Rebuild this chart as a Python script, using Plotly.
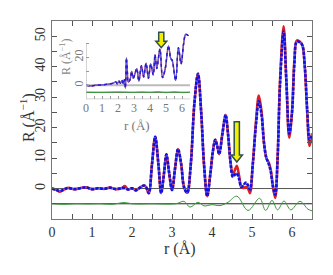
import plotly.graph_objects as go

# ---------------- main panel data ----------------
r_main = [0.0, 0.1, 0.2, 0.3, 0.4, 0.55, 0.7, 0.85, 1.0, 1.15, 1.3, 1.45, 1.6, 1.75, 1.82, 1.9,
          2.0, 2.1, 2.2, 2.3, 2.35, 2.42, 2.5, 2.58, 2.66, 2.73, 2.8, 2.86, 2.93, 3.0, 3.08,
          3.15, 3.23, 3.3, 3.38, 3.47, 3.56, 3.65, 3.73, 3.8, 3.88, 3.96, 4.02, 4.08, 4.13,
          4.18, 4.26, 4.34, 4.4, 4.46, 4.52, 4.57, 4.62, 4.68, 4.73, 4.78, 4.85, 4.9, 4.95,
          5.02, 5.1, 5.17, 5.24, 5.3, 5.36, 5.42, 5.47, 5.52, 5.58, 5.64, 5.7, 5.79, 5.86,
          5.93, 6.0, 6.06, 6.12, 6.2, 6.26, 6.32, 6.38, 6.44, 6.5]
R_data = [0.0, -0.4, -1.0, -0.3, 0.2, -0.2, 0.1, 0.4, -0.2, 0.1, -0.1, 0.3, -0.2, 0.2, 0.8, -0.3,
          0.1, -0.6, 0.3, 1.0, 0.5, -1.5, 8.0, 17.0, 8.0, -1.5, 5.0, 11.2, 5.0, -0.5, 7.0,
          13.0, 8.0, 0.5, -1.4, 8.0, 28.0, 37.7, 25.0, 8.0, -2.5, 5.0, 12.0, 16.0, 14.0,
          11.3, 18.0, 24.2, 18.0, 9.0, 4.5, 6.0, 7.5, 4.0, 0.5, 0.2, 0.5, 0.0, -1.5,
          8.0, 22.0, 30.5, 25.0, 15.0, 10.0, 8.5, 6.0, 1.0, -3.1, 10.0, 35.0, 53.3, 35.0,
          16.7, 25.0, 42.0, 48.6, 48.2, 47.0, 40.0, 25.0, 14.0, 18.0]
R_fit = [0.0, -0.4, -0.8, -0.3, 0.2, -0.2, 0.1, 0.4, -0.2, 0.1, -0.1, 0.3, -0.2, 0.2, 0.1, -0.3,
         0.1, -0.6, 0.3, 1.0, 0.5, -1.5, 8.0, 17.0, 8.0, -1.5, 5.0, 11.2, 5.0, -0.5, 7.0,
         13.0, 8.0, 0.5, -1.4, 8.0, 28.0, 37.7, 25.0, 8.0, -2.5, 5.0, 12.0, 16.0, 14.0,
         11.3, 18.0, 24.2, 18.0, 9.0, 3.8, 4.5, 5.0, 3.0, 0.5, 1.0, 2.0, 1.0, -0.3,
         8.0, 21.0, 28.6, 24.0, 15.0, 10.0, 8.0, 5.5, 1.0, -2.0, 10.0, 34.0, 51.5, 35.0,
         18.0, 25.0, 41.0, 48.2, 48.0, 47.0, 40.0, 26.0, 16.0, 18.0]

r_diff = [0.0, 0.3, 0.6, 0.9, 1.2, 1.5, 1.8, 2.0, 2.2, 2.5, 2.8, 3.1, 3.3, 3.45, 3.65, 3.8,
          4.0, 4.2, 4.4, 4.62, 4.9, 5.19, 5.34, 5.5, 5.64, 5.8, 5.97, 6.2, 6.4, 6.5]
R_diff = [-5.0, -5.2, -5.0, -5.1, -5.0, -5.2, -4.6, -5.0, -5.1, -5.0, -5.1, -5.0, -4.2, -6.1,
          -4.5, -5.7, -5.3, -5.6, -4.5, -2.5, -7.2, -3.2, -7.2, -3.9, -7.0, -4.1, -7.0, -4.2,
          -6.8, -7.3]

# ---------------- inset data ----------------
r_in = [0.0, 0.3, 0.6, 1.0, 1.4, 1.7, 1.85, 1.95, 2.05, 2.15, 2.25, 2.33, 2.4, 2.46, 2.52,
        2.58, 2.64, 2.75, 2.85, 2.95, 3.05, 3.17, 3.3, 3.46, 3.6, 3.75, 3.9, 4.04, 4.2, 4.31,
        4.42, 4.62, 4.78, 4.95, 5.15, 5.3, 5.38, 5.6, 5.77, 5.94, 6.1, 6.23, 6.4]
R_in = [0.0, -0.5, 0.0, 0.3, 0.8, 1.5, 2.5, 1.0, 3.0, 1.5, 3.5, 1.0, 4.0, -2.0, 19.6,
        10.0, 2.3, 4.0, 10.0, 5.0, 8.0, 12.0, 3.0, 14.0, 6.0, 15.8, 5.0, 15.3, 7.5, 22.0,
        12.0, 26.0, 5.5, 12.0, 28.3, 19.0, 18.0, 3.5, 27.0, 15.3, 30.0, 36.5, 35.5]
r_in_diff = [0.0, 1.0, 2.0, 2.5, 3.0, 3.5, 4.0, 4.5, 5.0, 5.5, 6.0, 6.5]
R_in_diff = [-5.0, -5.2, -4.8, -5.0, -5.2, -4.8, -5.2, -4.6, -5.4, -4.7, -5.3, -5.0]

x_ticks = [0, 1, 2, 3, 4, 5, 6]
y_ticks = [0, 10, 20, 30, 40, 50]
in_y_ticks = [0, 20]

FONT = "Liberation Serif"
fig = go.Figure()

# main reference lines
fig.add_trace(go.Scatter(x=[0, 6.5], y=[0, 0], mode="lines", line=dict(color="#555", width=1),
                         hoverinfo="skip"))
fig.add_trace(go.Scatter(x=[0, 6.5], y=[-5, -5], mode="lines", line=dict(color="#222", width=1),
                         hoverinfo="skip"))
fig.add_trace(go.Scatter(x=r_diff, y=R_diff, mode="lines", line=dict(color="#3a9a3a", width=1, shape="spline")))
fig.add_trace(go.Scatter(x=r_main, y=R_data, mode="lines",
                         line=dict(color="#e02020", width=2.6, shape="spline")))
fig.add_trace(go.Scatter(x=r_main, y=R_fit, mode="lines",
                         line=dict(color="#6a6ae0", width=1.4, shape="spline")))
fig.add_trace(go.Scatter(x=r_main, y=R_fit, mode="lines",
                         line=dict(color="#1010e0", width=2.6, shape="spline", dash="3px,1.5px")))

# inset
fig.add_trace(go.Scatter(x=[0, 6.5], y=[0, 0], mode="lines", line=dict(color="#bbb", width=2),
                         xaxis="x2", yaxis="y2", hoverinfo="skip"))
fig.add_trace(go.Scatter(x=[0, 6.5], y=[-5, -5], mode="lines", line=dict(color="#2a5a2a", width=1),
                         xaxis="x2", yaxis="y2", hoverinfo="skip"))
fig.add_trace(go.Scatter(x=r_in_diff, y=R_in_diff, mode="lines", xaxis="x2", yaxis="y2",
                         line=dict(color="#3a9a3a", width=0.8, shape="spline")))
fig.add_trace(go.Scatter(x=r_in, y=R_in, mode="lines", xaxis="x2", yaxis="y2",
                         line=dict(color="#e03030", width=1.3, shape="spline")))
fig.add_trace(go.Scatter(x=r_in, y=R_in, mode="lines", xaxis="x2", yaxis="y2",
                         line=dict(color="#6a5ad8", width=1.3, shape="spline")))
fig.add_trace(go.Scatter(x=r_in, y=R_in, mode="lines", xaxis="x2", yaxis="y2",
                         line=dict(color="#2020d0", width=1.5, shape="spline", dash="dot")))

# arrows
def arrow(xc, ytop, yhead, ytip, hw, sw, xref, yref):
    p = (f"M {xc-sw},{ytop} L {xc+sw},{ytop} L {xc+sw},{yhead} L {xc+hw},{yhead} "
         f"L {xc},{ytip} L {xc-hw},{yhead} L {xc-sw},{yhead} Z")
    return dict(type="path", path=p, xref=xref, yref=yref, fillcolor="#f2f000",
                line=dict(color="#2f4f4f", width=1.5), layer="above")

shapes = [
    arrow(4.62, 21.9, 11.0, 8.7, 0.14, 0.065, "x", "y"),
    arrow(4.7, 38.0, 31.5, 27.0, 0.34, 0.16, "x2", "y2"),
    dict(type="line", xref="x2", yref="y2", x0=0, x1=0, y0=-10, y1=30,
         line=dict(color="#aaa", width=1)),
    dict(type="line", xref="x2", yref="y2", x0=0, x1=6.5, y0=-10, y1=-10,
         line=dict(color="#aaa", width=1)),
]

annotations = [
    dict(text="r (Å)", xref="paper", yref="paper", x=0.492, y=-0.152, showarrow=False,
         xanchor="center", yanchor="middle", font=dict(family=FONT, size=16, color="#333")),
    dict(text="R (Å<sup>−1</sup>)", xref="paper", yref="paper", x=-0.096, y=0.51, showarrow=False,
         xanchor="center", yanchor="middle", textangle=-90,
         font=dict(family=FONT, size=16, color="#333")),
    dict(text="r (Å)", xref="paper", yref="paper", x=0.327, y=0.47, showarrow=False,
         xanchor="center", yanchor="middle", font=dict(family=FONT, size=13, color="#777")),
    dict(text="R (Å<sup>−1</sup>)", xref="paper", yref="paper", x=0.05, y=0.818, showarrow=False,
         xanchor="center", yanchor="middle", textangle=-90,
         font=dict(family=FONT, size=12, color="#888")),
]

axis_font = dict(family=FONT, size=14, color="#333")
fig.update_layout(
    width=333, height=275, showlegend=False,
    margin=dict(l=52, r=21, t=21, b=56),
    paper_bgcolor="white", plot_bgcolor="white",
    font=dict(family=FONT, color="#333"),
    shapes=shapes, annotations=annotations,
    xaxis=dict(range=[0, 6.5], tickvals=x_ticks, ticks="inside", ticklen=5, tickcolor="#555",
               minor=dict(dtick=0.5, ticks="inside", ticklen=5, tickcolor="#555"),
               showline=True, linecolor="#777", mirror="ticks", showgrid=False, zeroline=False,
               tickfont=axis_font, automargin=False),
    yaxis=dict(range=[-10, 55], tickvals=y_ticks, ticks="inside", ticklen=5, tickcolor="#555",
               minor=dict(dtick=5, ticks="inside", ticklen=5, tickcolor="#555"),
               showline=True, linecolor="#777", mirror="ticks", showgrid=False, zeroline=False,
               tickfont=axis_font, tickangle=-90, automargin=False),
    xaxis2=dict(domain=[0.131, 0.531], anchor="y2", range=[0, 6.5], tickvals=x_ticks,
                ticks="inside", ticklen=3, tickcolor="#999",
                minor=dict(dtick=0.5, ticks="inside", ticklen=3, tickcolor="#999"),
                showline=False, showgrid=False, zeroline=False, automargin=False,
                tickfont=dict(family=FONT, size=12, color="#777")),
    yaxis2=dict(domain=[0.605, 0.95], anchor="x2", range=[-10, 39], tickvals=in_y_ticks,
                ticks="inside", ticklen=3, tickcolor="#999",
                minor=dict(dtick=10, ticks="inside", ticklen=3, tickcolor="#999"),
                showline=False, showgrid=False, zeroline=False, tickangle=-90, automargin=False,
                tickfont=dict(family=FONT, size=12, color="#777")),
)

fig.write_html("out.html", config={"displayModeBar": False},
               post_script="document.body.style.margin='0';")
